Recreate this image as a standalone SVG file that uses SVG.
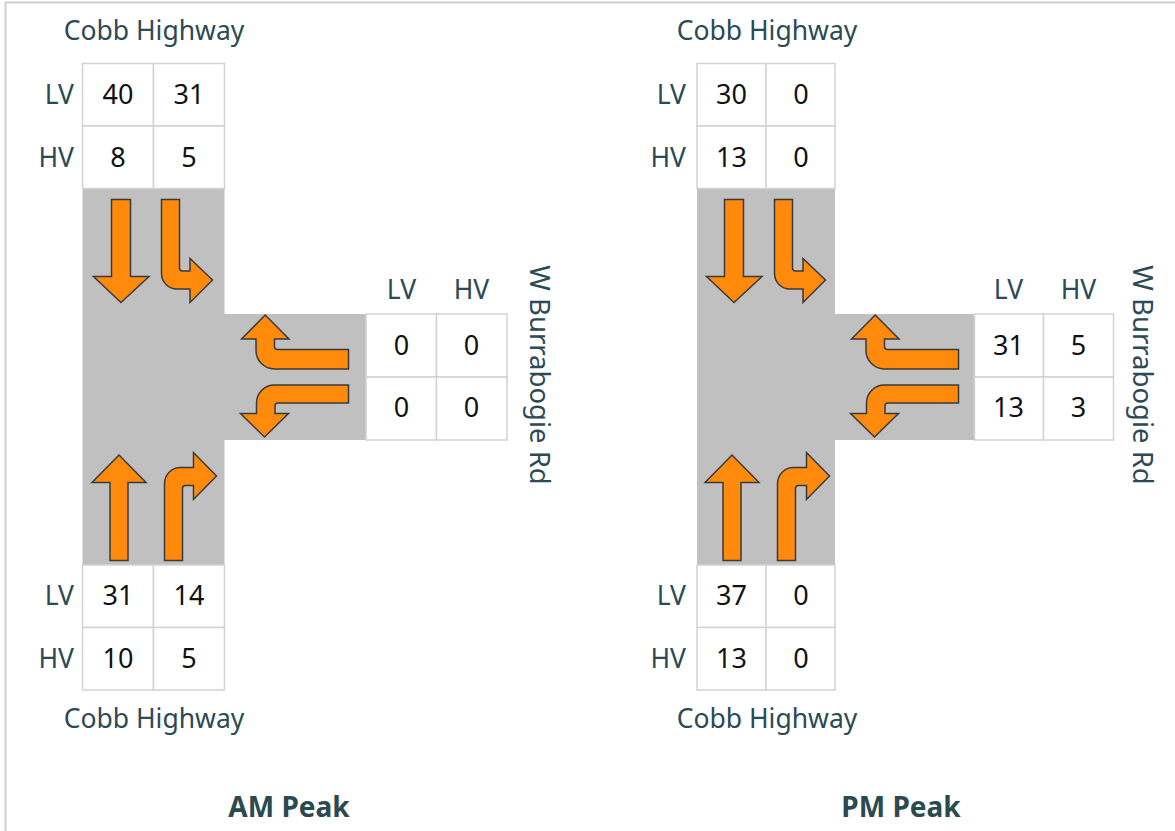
<svg xmlns="http://www.w3.org/2000/svg" width="1175" height="831" viewBox="0 0 1175 831">
<style>
.road{fill:#c0c0c0;stroke:none}
.cell{fill:#ffffff;stroke:#d2d2d2;stroke-width:1.5}
.arr{fill:#ff8a0c;stroke:#3a3a3a;stroke-width:1.5;stroke-linejoin:miter}
.lbl{font-family:"Noto Sans","Liberation Sans",sans-serif;font-size:26.5px;fill:#2b4a54}
.rot{font-size:27.5px}
.num{font-family:"Noto Sans","Liberation Sans",sans-serif;font-size:27px;fill:#111111;text-anchor:middle}
.ttl{font-family:"Noto Sans","Liberation Sans",sans-serif;font-size:28px;font-weight:bold;fill:#2b4a50;text-anchor:middle}
</style>
<defs>
<path id="aDown" d="M111.5,199.5 H130.5 V276.5 H149 L121,302.5 L93.5,276.5 H111.5 Z"/>
<path id="aDownTurn" d="M161.5,199.5 H179.5 V268 Q179.5,271 182.5,271 H190 V258.5 L212.5,280 L190,302.5 V289 H177 A15.5,15.5 0 0 1 161.5,273.5 Z"/>
<path id="aUp" d="M110,560.5 V482.5 H92 L119,455 L146,482.5 H128 V560.5 Z"/>
<path id="aUpTurn" d="M164.5,560.5 V483.5 A16,16 0 0 1 180.5,467.5 H193.5 V452.5 L216.5,476 L193.5,499.5 V485.5 H185.5 Q182.5,485.5 182.5,488.5 V560.5 Z"/>
<path id="aLeftUp" d="M348.5,349.5 V369 H274.5 A18.5,18.5 0 0 1 256,350.5 V339 H241.5 L265.2,315 L289,339 H274.5 V346.5 Q274.5,349.5 277.5,349.5 Z"/>
<path id="aLeftDown" d="M348.5,385 V403 H278 Q275,403 275,406 V413.5 H288.5 L264.5,437 L240.5,413.5 H256.5 V403 A18,18 0 0 1 274.5,385 Z"/>
</defs>
<rect width="1175" height="831" fill="#ffffff"/>
<g id="frame" fill="none" stroke="#cfcfcf" stroke-width="2">
<line x1="5" y1="2.5" x2="1175" y2="2.5"/>
<line x1="5.5" y1="2" x2="5.5" y2="831"/>
</g>

<!-- AM Peak -->
<g id="am-road">
<rect class="road" x="82.5" y="188" width="142" height="377"/>
<rect class="road" x="224" y="314" width="142" height="126"/>
</g>
<g id="am-north-table">
<rect class="cell" x="82.5" y="63.5" width="71" height="62.5"/>
<rect class="cell" x="153.5" y="63.5" width="71" height="62.5"/>
<rect class="cell" x="82.5" y="126" width="71" height="62.5"/>
<rect class="cell" x="153.5" y="126" width="71" height="62.5"/>
<text class="lbl" x="154" y="39.5" text-anchor="middle">Cobb Highway</text>
<text class="lbl" x="74" y="104" text-anchor="end">LV</text>
<text class="lbl" x="74" y="166.5" text-anchor="end">HV</text>
<text class="num" x="118" y="104">40</text>
<text class="num" x="189" y="104">31</text>
<text class="num" x="118" y="166.5">8</text>
<text class="num" x="189" y="166.5">5</text>
</g>
<g id="am-east-table">
<rect class="cell" x="366" y="314" width="70.5" height="63"/>
<rect class="cell" x="436.5" y="314" width="70.5" height="63"/>
<rect class="cell" x="366" y="377" width="70.5" height="63"/>
<rect class="cell" x="436.5" y="377" width="70.5" height="63"/>
<text class="lbl" x="401.5" y="299" text-anchor="middle">LV</text>
<text class="lbl" x="471.5" y="299" text-anchor="middle">HV</text>
<text class="num" x="401.5" y="354.5">0</text>
<text class="num" x="471.5" y="354.5">0</text>
<text class="num" x="401.5" y="417">0</text>
<text class="num" x="471.5" y="417">0</text>
<text class="lbl rot" x="0" y="0" text-anchor="middle" transform="translate(529.5,375) rotate(90)">W Burrabogie Rd</text>
</g>
<g id="am-south-table">
<rect class="cell" x="82.5" y="565" width="71" height="62.5"/>
<rect class="cell" x="153.5" y="565" width="71" height="62.5"/>
<rect class="cell" x="82.5" y="627.5" width="71" height="62.5"/>
<rect class="cell" x="153.5" y="627.5" width="71" height="62.5"/>
<text class="lbl" x="74" y="604.5" text-anchor="end">LV</text>
<text class="lbl" x="74" y="667.5" text-anchor="end">HV</text>
<text class="num" x="118" y="604.5">31</text>
<text class="num" x="189" y="604.5">14</text>
<text class="num" x="118" y="667.5">10</text>
<text class="num" x="189" y="667.5">5</text>
<text class="lbl" x="154" y="727.5" text-anchor="middle">Cobb Highway</text>
</g>
<g id="am-arrows">
<use href="#aDown" class="arr"/>
<use href="#aDownTurn" class="arr"/>
<use href="#aUp" class="arr"/>
<use href="#aUpTurn" class="arr"/>
<use href="#aLeftUp" class="arr"/>
<use href="#aLeftDown" class="arr"/>
</g>
<text id="am-title" class="ttl" x="289" y="816.5">AM Peak</text>

<!-- PM Peak -->
<g id="pm-road">
<rect class="road" x="697" y="188" width="138" height="377"/>
<rect class="road" x="834" y="314" width="140.5" height="126"/>
</g>
<g id="pm-north-table">
<rect class="cell" x="697" y="63.5" width="69" height="62.5"/>
<rect class="cell" x="766" y="63.5" width="69" height="62.5"/>
<rect class="cell" x="697" y="126" width="69" height="62.5"/>
<rect class="cell" x="766" y="126" width="69" height="62.5"/>
<text class="lbl" x="767" y="39.5" text-anchor="middle">Cobb Highway</text>
<text class="lbl" x="686" y="104" text-anchor="end">LV</text>
<text class="lbl" x="686" y="166.5" text-anchor="end">HV</text>
<text class="num" x="731.5" y="104">30</text>
<text class="num" x="801" y="104">0</text>
<text class="num" x="731.5" y="166.5">13</text>
<text class="num" x="801" y="166.5">0</text>
</g>
<g id="pm-east-table">
<rect class="cell" x="974.5" y="314" width="69" height="63"/>
<rect class="cell" x="1043.5" y="314" width="70" height="63"/>
<rect class="cell" x="974.5" y="377" width="69" height="63"/>
<rect class="cell" x="1043.5" y="377" width="70" height="63"/>
<text class="lbl" x="1008.5" y="299" text-anchor="middle">LV</text>
<text class="lbl" x="1078.5" y="299" text-anchor="middle">HV</text>
<text class="num" x="1008.5" y="354.5">31</text>
<text class="num" x="1078.5" y="354.5">5</text>
<text class="num" x="1008.5" y="417">13</text>
<text class="num" x="1078.5" y="417">3</text>
<text class="lbl rot" x="0" y="0" text-anchor="middle" transform="translate(1133,375) rotate(90)">W Burrabogie Rd</text>
</g>
<g id="pm-south-table">
<rect class="cell" x="697" y="565" width="69" height="62.5"/>
<rect class="cell" x="766" y="565" width="69" height="62.5"/>
<rect class="cell" x="697" y="627.5" width="69" height="62.5"/>
<rect class="cell" x="766" y="627.5" width="69" height="62.5"/>
<text class="lbl" x="686" y="604.5" text-anchor="end">LV</text>
<text class="lbl" x="686" y="667.5" text-anchor="end">HV</text>
<text class="num" x="731.5" y="604.5">37</text>
<text class="num" x="801" y="604.5">0</text>
<text class="num" x="731.5" y="667.5">13</text>
<text class="num" x="801" y="667.5">0</text>
<text class="lbl" x="767" y="727.5" text-anchor="middle">Cobb Highway</text>
</g>
<g id="pm-arrows">
<g transform="translate(613,0)">
<use href="#aDown" class="arr"/>
<use href="#aDownTurn" class="arr"/>
<use href="#aUp" class="arr"/>
<use href="#aUpTurn" class="arr"/>
</g>
<g transform="translate(610,0)">
<use href="#aLeftUp" class="arr"/>
<use href="#aLeftDown" class="arr"/>
</g>
</g>
<text id="pm-title" class="ttl" x="901" y="816.5">PM Peak</text>
</svg>
